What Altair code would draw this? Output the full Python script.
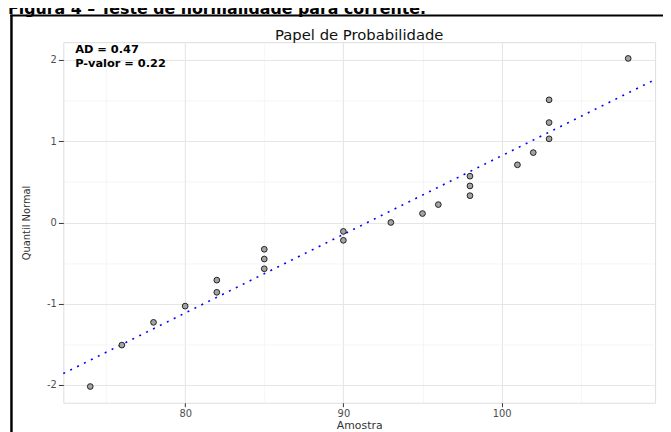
import altair as alt
import pandas as pd

# ---- data ----
amostra = [74, 76, 78, 80, 82, 82, 85, 85, 85, 90, 90, 93, 95, 96, 98, 98, 98,
           101, 102, 103, 103, 103, 108]
quantil = [-2.02, -1.51, -1.23, -1.03, -0.86, -0.71, -0.57, -0.45, -0.33, -0.22,
           -0.11, 0.0, 0.11, 0.22, 0.33, 0.45, 0.57, 0.71, 0.86, 1.03, 1.23, 1.51, 2.02]
linha_x = [72.3, 109.7]
linha_y = [-1.86, 1.76]
x_ticks = [75, 80, 85, 90, 95, 100, 105]
y_ticks = [-2, -1.5, -1, -0.5, 0, 0.5, 1, 1.5, 2]
x_domain = [72.3, 109.7]
y_domain = [-2.22, 2.22]

pontos = pd.DataFrame({"amostra": amostra, "quantil": quantil})
linha = pd.DataFrame({"amostra": linha_x, "quantil": linha_y})

FONT = "DejaVu Sans"
W, H = 599, 365

xscale = alt.Scale(domain=x_domain, nice=False, zero=False)
yscale = alt.Scale(domain=y_domain, nice=False, zero=False)

xaxis = alt.Axis(
    values=x_ticks,
    labelExpr="datum.value % 10 == 0 ? '' + datum.value : ''",
    tickOpacity={"condition": {"test": "datum.value % 10 != 0", "value": 0}, "value": 1},
    gridColor={"condition": {"test": "datum.value % 10 != 0", "value": "#f1f1f1"}, "value": "#e6e6e6"},
    gridWidth={"condition": {"test": "datum.value % 10 != 0", "value": 0.7}, "value": 1.1},
    title="Amostra",
    domain=False,
    tickSize=4, tickColor="#333333", tickWidth=1,
    labelPadding=2, labelFont=FONT, labelFontSize=10, labelColor="#4d4d4d",
    titleFont=FONT, titleFontSize=11, titleFontWeight="normal", titleColor="#333333",
    titlePadding=1,
)
yaxis = alt.Axis(
    values=y_ticks,
    labelExpr="datum.value % 1 == 0 ? '' + datum.value : ''",
    tickOpacity={"condition": {"test": "datum.value % 1 != 0", "value": 0}, "value": 1},
    gridColor={"condition": {"test": "datum.value % 1 != 0", "value": "#f1f1f1"}, "value": "#e6e6e6"},
    gridWidth={"condition": {"test": "datum.value % 1 != 0", "value": 0.7}, "value": 1.1},
    title="Quantil Normal",
    domain=False,
    tickSize=5, tickColor="#333333", tickWidth=1,
    labelPadding=2, labelFont=FONT, labelFontSize=10, labelColor="#4d4d4d",
    titleFont=FONT, titleFontSize=10, titleFontWeight="normal", titleColor="#333333",
    titlePadding=15,
)

linha_chart = alt.Chart(linha).mark_line(
    color="#0000ff", strokeWidth=1.6, strokeDash=[2, 5.8], strokeCap="butt"
).encode(
    x=alt.X("amostra:Q", scale=xscale, axis=xaxis),
    y=alt.Y("quantil:Q", scale=yscale, axis=yaxis),
)

pontos_chart = alt.Chart(pontos).mark_circle(
    size=34, color="#a3a3a3", stroke="#111111", strokeWidth=0.9, opacity=1
).encode(
    x=alt.X("amostra:Q", scale=xscale),
    y=alt.Y("quantil:Q", scale=yscale),
)

um = alt.Data(values=[{}])

titulo = alt.Chart(um).mark_text(
    text="Papel de Probabilidade", font=FONT, fontSize=15, color="#111111",
    align="center", baseline="alphabetic"
).encode(x=alt.value(W / 2), y=alt.value(-2))

ad = alt.Chart(um).mark_text(
    text="AD = 0.47", font=FONT, fontSize=11.5, fontWeight="bold", color="black",
    align="left", baseline="alphabetic"
).encode(x=alt.value(12), y=alt.value(11))

pval = alt.Chart(um).mark_text(
    text="P-valor = 0.22", font=FONT, fontSize=11.5, fontWeight="bold", color="black",
    align="left", baseline="alphabetic"
).encode(x=alt.value(12), y=alt.value(24.7))

cabecalho = alt.Chart(um).mark_text(
    text="Figura 4 – Teste de normalidade para corrente.", font=FONT, fontSize=16,
    fontWeight="bold", color="black", align="left", baseline="alphabetic"
).encode(x=alt.value(-56), y=alt.value(-29))

moldura_v = alt.Chart(um).mark_rule(color="black", strokeWidth=2.5).encode(
    x=alt.value(-52.5), y=alt.value(-28), y2=alt.value(400)
)
moldura_h = alt.Chart(um).mark_rule(color="black", strokeWidth=2).encode(
    x=alt.value(-53.5), x2=alt.value(620), y=alt.value(-27)
)

chart = alt.layer(
    linha_chart, pontos_chart, titulo, ad, pval, cabecalho, moldura_v, moldura_h
).properties(
    width=W, height=H,
    autosize=alt.AutoSizeParams(type="none"),
    padding={"left": 56, "top": 32, "right": 8, "bottom": 27},
).configure_view(
    stroke="#7f7f7f", strokeWidth=1
).configure(background="white")

chart.save("out.html", embed_options={"renderer": "svg", "actions": False})
